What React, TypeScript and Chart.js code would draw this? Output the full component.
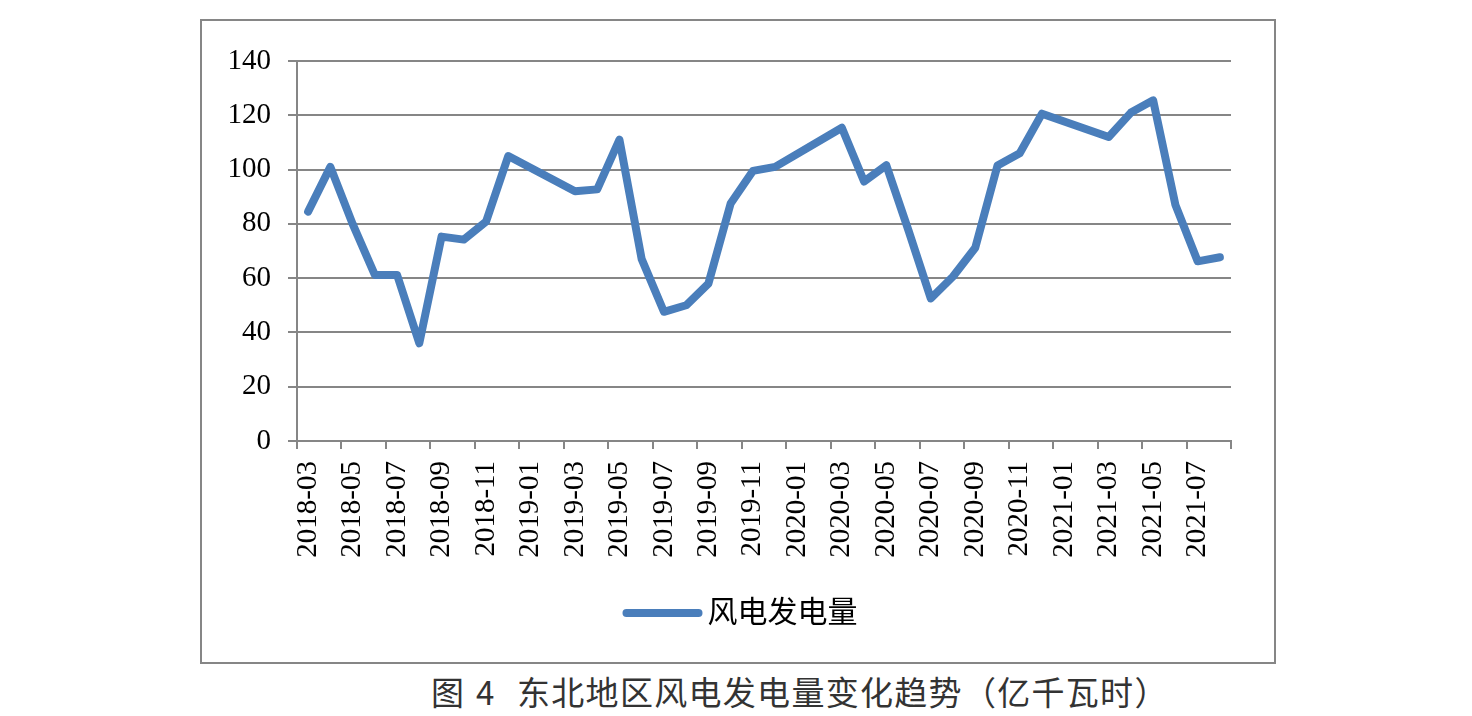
import React, { useEffect, useRef } from 'react';
import { Chart, registerables } from 'chart.js';

Chart.register(...registerables);

// ---------- data ----------
const months: string[] = [
  '2018-03', '2018-04', '2018-05', '2018-06', '2018-07', '2018-08', '2018-09', '2018-10', '2018-11', '2018-12',
  '2019-01', '2019-02', '2019-03', '2019-04', '2019-05', '2019-06', '2019-07', '2019-08', '2019-09', '2019-10',
  '2019-11', '2019-12', '2020-01', '2020-02', '2020-03', '2020-04', '2020-05', '2020-06', '2020-07', '2020-08',
  '2020-09', '2020-10', '2020-11', '2020-12', '2021-01', '2021-02', '2021-03', '2021-04', '2021-05', '2021-06',
  '2021-07', '2021-08',
];

const windPower: (number | null)[] = [
  84.5, 101, 80, 61.2, 61.2, 36, 75.3, 74.2, 80.8, 105,
  null, null, 92, 92.7, 111, 67, 47.6, 50, 58, 87.5,
  99.5, 101, null, null, 115.4, 95.6, 101.6, 77.5, 52.5, 60.6,
  71.2, 101.5, 106, 120.6, null, null, 112, 121, 125.5, 87,
  66.2, 67.7,
];

const seriesName = '风电发电量';
const yMin = 0;
const yMax = 140;
const yStep = 20;
const caption = '图 4  东北地区风电发电量变化趋势（亿千瓦时）';

// ---------- styles ----------
const GRAY = '#868686';
const LINE_BLUE = '#4A7EBB';
const SERIF = '"Liberation Serif", "Times New Roman", serif';

const legendPlugin = {
  id: 'lineLegend',
  afterDraw(chart: any) {
    const ctx = chart.ctx as CanvasRenderingContext2D;
    const ds = chart.data.datasets[0];
    const lineLen = 72;
    const cap = 4;
    const gap = 5;
    const font = `30px ${SERIF}, "Noto Sans CJK SC", sans-serif`;
    ctx.save();
    ctx.font = font;
    const tw = ctx.measureText(ds.label).width;
    const total = cap + lineLen + cap + gap + tw;
    const startX = chart.width / 2 + 2 - total / 2;
    const y = 592;
    ctx.strokeStyle = ds.borderColor;
    ctx.lineWidth = 8;
    ctx.lineCap = 'round';
    ctx.beginPath();
    ctx.moveTo(startX + cap, y);
    ctx.lineTo(startX + cap + lineLen, y);
    ctx.stroke();
    ctx.fillStyle = '#000000';
    ctx.textAlign = 'left';
    ctx.textBaseline = 'middle';
    ctx.fillText(ds.label, startX + cap * 2 + lineLen + gap, y + 1);
    ctx.restore();
  },
};

export default function App() {
  const canvasRef = useRef<HTMLCanvasElement | null>(null);

  useEffect(() => {
    const canvas = canvasRef.current;
    if (!canvas) return;
    const chart = new Chart(canvas, {
      type: 'line',
      data: {
        labels: months,
        datasets: [
          {
            label: seriesName,
            data: windPower,
            borderColor: LINE_BLUE,
            backgroundColor: LINE_BLUE,
            borderWidth: 8,
            pointRadius: 0,
            pointHoverRadius: 0,
            tension: 0,
            spanGaps: true,
            fill: false,
            borderCapStyle: 'round',
            borderJoinStyle: 'round',
          },
        ],
      },
      options: {
        responsive: false,
        animation: false,
        devicePixelRatio: 1,
        layout: { padding: { left: 0, right: 43, top: 40, bottom: 0 } },
        plugins: {
          legend: { display: false },
          tooltip: { enabled: false },
        },
        scales: {
          x: {
            type: 'category',
            offset: true,
            grid: {
              display: true,
              offset: true,
              drawOnChartArea: false,
              drawTicks: true,
              tickLength: 8,
              lineWidth: 2,
              color: (c: any) => (c.index === undefined || c.index % 2 === 0 ? GRAY : 'rgba(0,0,0,0)'),
            },
            border: { display: true, color: GRAY, width: 2 },
            ticks: {
              autoSkip: false,
              maxRotation: 90,
              minRotation: 90,
              padding: 12,
              color: '#000000',
              font: { family: SERIF, size: 29 },
              callback: (_v: any, i: number) => (i % 2 === 0 ? months[i] : ''),
            },
            afterFit: (s: any) => {
              s.height = 221;
            },
          },
          y: {
            min: yMin,
            max: yMax,
            ticks: {
              stepSize: yStep,
              padding: 17,
              color: '#000000',
              font: { family: SERIF, size: 29 },
            },
            grid: { color: GRAY, lineWidth: 2, drawTicks: true, tickLength: 9 },
            border: { display: true, color: GRAY, width: 2 },
            afterFit: (s: any) => {
              s.width = 95;
            },
          },
        },
      },
      plugins: [legendPlugin],
    });
    return () => chart.destroy();
  }, []);

  return (
    <div>
      <div
        style={{
          position: 'absolute',
          left: 200,
          top: 19,
          width: 1076,
          height: 645,
          border: `2px solid ${GRAY}`,
          boxSizing: 'border-box',
          background: '#ffffff',
        }}
      >
        <canvas ref={canvasRef} width={1072} height={641} style={{ display: 'block', width: 1072, height: 641 }} />
      </div>
      <div
        style={{
          position: 'absolute',
          left: 431,
          top: 671,
          fontFamily: '"Noto Sans CJK SC", sans-serif',
          fontSize: 33,
          lineHeight: '40px',
          letterSpacing: '1.3px',
          wordSpacing: '2px',
          color: '#333333',
          whiteSpace: 'pre',
        }}
      >
        {caption}
      </div>
    </div>
  );
}
